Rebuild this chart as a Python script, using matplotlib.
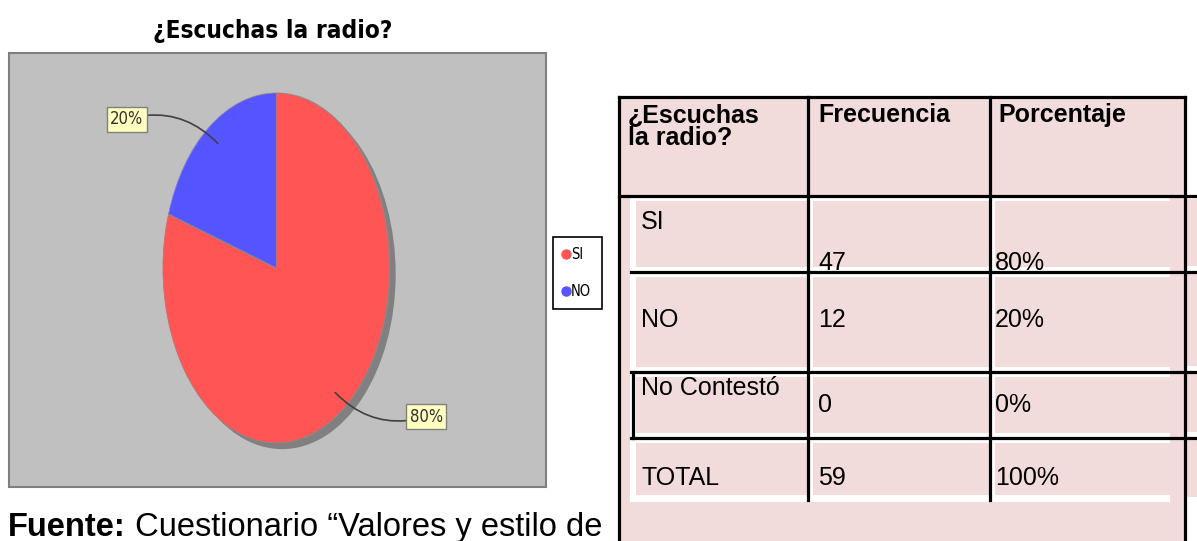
import matplotlib
matplotlib.use('Agg')
import matplotlib.pyplot as plt
from matplotlib.patches import Rectangle, Ellipse
from matplotlib.lines import Line2D
import numpy as np

W, H = 1197, 541

# ---- data ----
title = '¿Escuchas la radio?'
categories = ['SI', 'NO']
percentages = [80, 20]
pie_colors = ['#ff5555', '#5555ff']

table_header = ['¿Escuchas\nla radio?', 'Frecuencia', 'Porcentaje']
row_labels = ['SI', 'NO', 'No Contestó', 'TOTAL']
frequencies = [47, 12, 0, 59]
row_percent = ['80%', '20%', '0%', '100%']
source_bold = 'Fuente:'
source_text = ' Cuestionario “Valores y estilo de'

ARIAL = ['Liberation Sans', 'DejaVu Sans']

fig = plt.figure(figsize=(W / 100, H / 100), dpi=100)
bg = fig.add_axes([0, 0, 1, 1])
bg.set_xlim(0, W)
bg.set_ylim(H, 0)
bg.axis('off')


def px_axes(x0, y0, x1, y1, z=2):
    a = fig.add_axes([x0 / W, 1 - y1 / H, (x1 - x0) / W, (y1 - y0) / H])
    a.set_zorder(z)
    a.patch.set_alpha(0)
    return a


# ---- chart frame ----
bg.add_patch(Rectangle((9, 53), 537, 434, fc='#c0c0c0', ec='#7f7f7f', lw=1.5))
bg.text(273, 31, title, ha='center', va='center', fontsize=17.5, weight='bold',
        family='DejaVu Sans', fontstretch='condensed')

# ---- pie ----
pa = px_axes(163, 93, 390, 443)
pa.add_patch(Ellipse((0.05, -0.035), 2, 2, fc='#808080', ec='none', zorder=0,
                     clip_on=False))
wedges, _ = pa.pie(percentages, colors=pie_colors, startangle=90, counterclock=False,
                   radius=1, wedgeprops=dict(lw=0.6, ec='#8a8a8a'))
pa.set_aspect('auto')
pa.set_xlim(-1, 1)
pa.set_ylim(-1, 1)
pa.axis('off')

for w, p in zip(wedges, percentages):
    mid = np.deg2rad((w.theta1 + w.theta2) / 2)
    px, py = 0.88 * np.cos(mid), 0.88 * np.sin(mid)
    tx = 1.32 * np.sign(np.cos(mid))
    ty = 0.85 * np.sign(np.sin(mid))
    pa.annotate(f'{p}%', xy=(px, py), xytext=(tx, ty), ha='center', va='center',
                fontsize=12, family='DejaVu Sans', fontstretch='condensed', color='#303030',
                bbox=dict(boxstyle='square,pad=0.2', fc='#ffffc0', ec='#808080', lw=1),
                arrowprops=dict(arrowstyle='-', color='#404040', lw=1.2,
                                connectionstyle='arc3,rad=-0.3', shrinkA=0, shrinkB=0),
                annotation_clip=False)

# ---- legend ----
handles = [Line2D([], [], marker='o', ls='', color=c, markersize=6.5) for c in pie_colors]
leg = fig.legend(handles, categories, loc='upper left',
                 bbox_to_anchor=(553 / W, 1 - 237 / H), frameon=True, fancybox=False,
                 edgecolor='black', facecolor='white', framealpha=1,
                 handlelength=0.4, handletextpad=0.15, labelspacing=1.5,
                 borderpad=0.7, borderaxespad=0,
                 prop=dict(family='DejaVu Sans', stretch='condensed', size=10.5))
leg.get_frame().set_linewidth(1.2)

# ---- table ----
PINK = '#f2dcdb'
L, T, R = 619, 97, 1185
colx = [619, 808, 990, 1185]
rowy = [97, 196, 272, 372, 438, 500]
bg.add_patch(Rectangle((L, T), R - L, H - T + 5, fc=PINK, ec='none'))
bg.add_patch(Rectangle((1170, 199), W - 1170 + 5, 298, fc=PINK, ec='none'))
bg.add_patch(Rectangle((630, 196), 1170 - 630, 306, fc='white', ec='none'))
cell_x = [(636, 807), (813, 989), (995, 1170)]
for i in range(4):
    y0, y1 = rowy[i + 1], rowy[i + 2]
    for (x0, x1) in cell_x:
        bg.add_patch(Rectangle((x0, y0 + 5), x1 - x0, (y1 - y0) - 10, fc=PINK, ec='none'))
for y in rowy[2:5]:
    bg.add_patch(Rectangle((1187, y - 6), W - 1187 + 5, 5, fc='white', ec='none'))

LW = 2.3
bg.plot([L, R], [T, T], color='black', lw=LW, solid_capstyle='projecting')
bg.plot([L, L], [T, H + 5], color='black', lw=LW)
bg.plot([R, R], [T, H + 5], color='black', lw=LW)
for x in colx[1:3]:
    bg.plot([x, x], [T, rowy[-1]], color='black', lw=LW)
bg.plot([L, W], [rowy[1], rowy[1]], color='black', lw=LW)
for y in rowy[2:5]:
    bg.plot([631, W], [y, y], color='black', lw=LW)
bg.plot([633, 633], [rowy[3], rowy[4]], color='black', lw=LW)

FS = 18
for x, h in zip([628, 818, 998], table_header):
    bg.text(x, 103, h, ha='left', va='top', fontsize=FS, weight='bold',
            family=ARIAL, linespacing=0.95)

label_y = [222, 320, 388, 478]
value_y = [263, 320, 405, 478]
for lab, fq, pc, ly, vy in zip(row_labels, frequencies, row_percent, label_y, value_y):
    bg.text(641, ly, lab, ha='left', va='center', fontsize=FS, family=ARIAL)
    bg.text(818, vy, str(fq), ha='left', va='center', fontsize=FS, family=ARIAL)
    bg.text(995, vy, pc, ha='left', va='center', fontsize=FS, family=ARIAL)

# ---- source ----
t1 = bg.text(8, 536, source_bold, ha='left', va='baseline', fontsize=23.5,
             weight='bold', family=ARIAL)
bg.annotate(source_text, xy=(1, 0), xycoords=t1, ha='left', va='bottom',
            fontsize=23.5, family=ARIAL)

fig.savefig('out.png', dpi=100)
